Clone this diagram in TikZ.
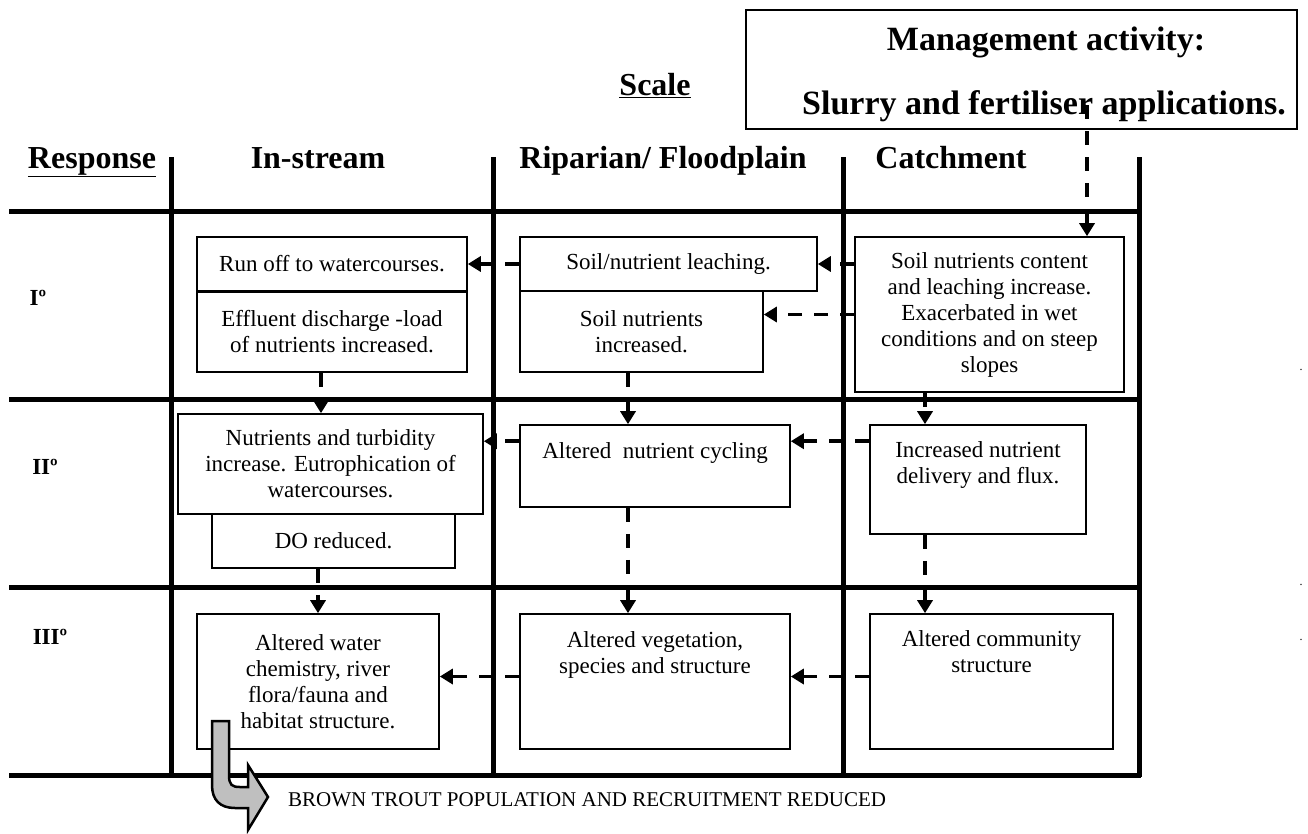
\documentclass[tikz,border=0pt]{standalone}
\usepackage{fontspec}
\setmainfont{Liberation Serif}
\usetikzlibrary{positioning}
\usetikzlibrary{calc}
\usetikzlibrary{arrows.meta}

\begin{document}
\begin{tikzpicture}[x=1pt,y=-1pt]
\tikzstyle{grid} =[line width=5pt,draw=black]
\tikzstyle{cell} =[rectangle,draw=black,line width=1.6pt,inner sep=2pt,align=center,font=\fontsize{23}{26}\selectfont]
\tikzstyle{txt} =[align=center,inner sep=0pt,font=\fontsize{23}{26}\selectfont]
\tikzstyle{hdr} =[inner sep=0pt,anchor=base,font=\bfseries\fontsize{32}{36}\selectfont]
\tikzstyle{flow} =[line width=3.5pt,dash pattern=on 14pt off 12pt,-{Triangle[length=13pt,width=15pt]}]
\useasboundingbox (0,0) rectangle (1308,833);

% table lines
\foreach \gx in {171,493,843,1139}
  \draw[grid] (\gx,157) -- (\gx,777);
\foreach \gy in {211,399,587,775}
  \draw[grid] (9,\gy) -- (1141,\gy);

% headings
\node[hdr](scale) at (655,95) {\underline{Scale}};
\node[hdr](resp) at (92,168) {\underline{Response}};
\node[hdr](instream) at (318,168) {In-stream};
\node[hdr](riparian) at (663,168) {Riparian/ Floodplain};
\node[hdr](catchment) at (951,168) {Catchment};

\node[cell,minimum width=551,minimum height=119](mgmt) at (1021.5,69.5) {};
\node[hdr,font=\bfseries\fontsize{34}{38}\selectfont](mgmtA) at (1046,50) {Management activity:};
\node[hdr,font=\bfseries\fontsize{34}{38}\selectfont](mgmtB) at (1044,114) {Slurry and fertiliser applications.};

\node[txt,font=\bfseries\fontsize{23}{26}\selectfont](rowI) at (38,298) {Iº};
\node[txt,font=\bfseries\fontsize{23}{26}\selectfont](rowII) at (45,467) {IIº};
\node[txt,font=\bfseries\fontsize{23}{26}\selectfont](rowIII) at (50,637) {IIIº};

% primary
\node[cell,minimum width=270,minimum height=54](run) at (332,264) {Run off to watercourses.};
\node[cell,minimum width=270,minimum height=80](eff) at (332,332) {Effluent discharge -load\\of nutrients increased.};
\node[cell,minimum width=297,minimum height=54](leach) at (668.5,264) {Soil/nutrient leaching.};
\node[cell,minimum width=243,minimum height=81](soil) at (641.5,331.5) {Soil nutrients\\increased.};
\node[cell,minimum width=269,minimum height=155](catch) at (989.5,314.5) {Soil nutrients content\\and leaching increase.\\Exacerbated in wet\\conditions and on steep\\slopes};

% secondary
\node[cell,minimum width=305,minimum height=100](turb) at (330.5,464) {Nutrients and turbidity\\increase. Eutrophication of\\watercourses.};
\node[cell,minimum width=243,minimum height=54](dored) at (333.5,541) {DO reduced.};
\node[cell,minimum width=270,minimum height=82](cyc) at (655,466) {};
\node[txt,anchor=north](cycT) at ([yshift=-18pt]cyc.north) {Altered\ \ nutrient cycling};
\node[cell,minimum width=216,minimum height=109](flux) at (978,479.5) {};
\node[txt,anchor=north](fluxT) at ([yshift=-17pt]flux.north) {Increased nutrient\\delivery and flux.};

% tertiary
\node[cell,minimum width=242,minimum height=135](chem) at (318,681.5) {Altered water\\chemistry, river\\flora/fauna and\\habitat structure.};
\node[cell,minimum width=270,minimum height=135](veg) at (655,681.5) {};
\node[txt,anchor=north](vegT) at ([yshift=-18pt]veg.north) {Altered vegetation,\\species and structure};
\node[cell,minimum width=243,minimum height=135](comm) at (991.5,681.5) {};
\node[txt,anchor=north](commT) at ([yshift=-17pt]comm.north) {Altered community\\structure};

% connectors
\coordinate (mgmtin) at (1087,105);
\draw[flow] (mgmtin) -- (mgmtin |- catch.north);
\draw[flow] (catch.west |- leach) -- (leach.east);
\draw[flow] (leach.west) -- (run.east);
\draw[flow] (catch.west) -- (catch.west -| soil.east);

\coordinate (effout) at ([xshift=-11pt]eff.south);
\coordinate (soilout) at ([xshift=-13.5pt]soil.south);
\coordinate (catchout) at ([xshift=-64.5pt]catch.south);
\draw[flow] (effout) -- (effout |- turb.north);
\draw[flow] (soilout) -- (soilout |- cyc.north);
\draw[flow] (catchout) -- (catchout |- flux.north);

\coordinate (cycin) at ([yshift=-17pt]cyc.north east);
\draw[flow] (cycin -| flux.west) -- (cycin);
\draw[flow] (cycin -| cyc.west) -- (cycin -| turb.east);

\draw[flow] (chem.north |- dored.south) -- (chem.north);
\draw[flow] (soilout |- cyc.south) -- (soilout |- veg.north);
\draw[flow] (catchout |- flux.south) -- (catchout |- comm.north);

\coordinate (vegin) at ([yshift=5pt]veg.east);
\draw[flow] (vegin -| comm.west) -- (vegin);
\draw[flow] (vegin -| veg.west) -- (vegin -| chem.east);

% outcome
\draw[line width=2.5pt,fill=gray!50] (212,721) -- (229,721) -- (229,775)
  .. controls (229,785) and (232,787) .. (240,787) -- (248,787) -- (248,765)
  -- (268,797) -- (248,830) -- (248,808) -- (235,808)
  .. controls (220,808) and (212,800) .. (212,785) -- cycle;
\node[txt,anchor=west,font=\fontsize{21}{24}\selectfont](trout) at (288,800) {BROWN TROUT POPULATION AND RECRUITMENT REDUCED};

\node[txt,font=\fontsize{12}{14}\selectfont](dotA) at (1301,370) {.};
\node[txt,font=\fontsize{12}{14}\selectfont](dotB) at (1301,585) {.};
\node[txt,font=\fontsize{12}{14}\selectfont](dotC) at (1301,640) {.};
\end{tikzpicture}
\end{document}
